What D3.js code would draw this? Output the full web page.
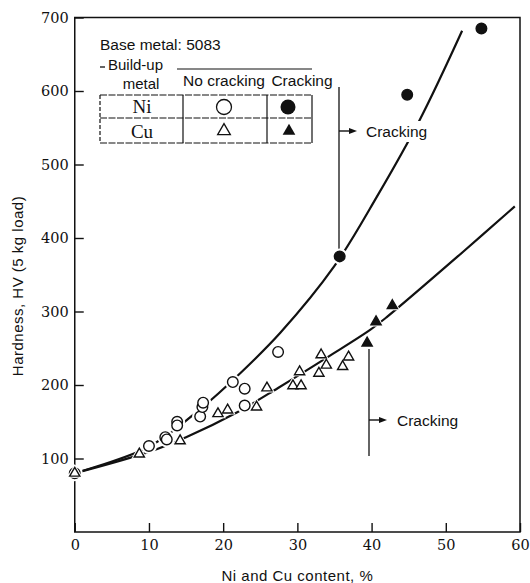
<!DOCTYPE html>
<html><head><meta charset="utf-8">
<script src="https://cdn.jsdelivr.net/npm/d3@7"></script>
<style>
body{margin:0;background:#fff;}
svg{display:block;}
.sans{font-family:"Liberation Sans",Arial,sans-serif;}
</style></head>
<body>
<script>
// ---- data ----
const xTicks = [0,10,20,30,40,50,60];
const yTicks = [100,200,300,400,500,600,700];
const niNoCrackX = [0,10,12.2,12.4,13.8,13.8,16.9,17.2,17.3,21.3,22.9,22.9,27.4];
const niNoCrackY = [80,117,129,126,150,145,157,170,176,204,195,172,245];
const niCrackX = [35.7,44.8,54.8];
const niCrackY = [375,595,685];
const cuNoCrackX = [0,8.7,14.2,19.3,20.6,24.5,25.9,29.4,30.5,30.3,32.9,33.2,33.9,36.1,36.9];
const cuNoCrackY = [80,106,124,161,166,170,196,199,199,218,216,241,227,225,238];
const cuCrackX = [39.4,40.6,42.8];
const cuCrackY = [257,286,308];
const niCurveX = [0,10,17,22.3,27.7,35,40.7,46.5,52.2];
const niCurveY = [80,116,168,216,271,362,456,561,682];
const cuCurveX = [0,10,15,21.9,27.4,34.4,39.8,42,52.3,59.3];
const cuCurveY = [80,109,129,163,196,240,275,292,381,443];

const W=530,H=583;
const svg=d3.select("body").append("svg").attr("width",W).attr("height",H);
const x=d3.scaleLinear().domain([0,60]).range([74.75,520]);
const y=d3.scaleLinear().domain([0,700]).range([532,17.5]);

// frame
svg.append("rect").attr("x",x(0)).attr("y",y(700)).attr("width",x(60)-x(0)).attr("height",y(0)-y(700))
  .attr("fill","none").attr("stroke","#111").attr("stroke-width",1.5);

// axes
const serif='"DejaVu Serif","Liberation Serif",serif';
const gx=svg.append("g").attr("transform",`translate(0,${y(0)})`)
  .call(d3.axisBottom(x).tickValues(xTicks).tickSizeInner(-9).tickSizeOuter(0).tickPadding(8).tickFormat(d3.format("d")));
const gy=svg.append("g").attr("transform",`translate(${x(0)},0)`)
  .call(d3.axisLeft(y).tickValues(yTicks).tickSizeInner(-9).tickSizeOuter(0).tickPadding(6).tickFormat(d3.format("d")));
[gx,gy].forEach(g=>{
  g.select(".domain").remove();
  g.selectAll("line").attr("stroke","#111").attr("stroke-width",1.4);
  g.selectAll("text").attr("fill","#111").style("font-family",serif).style("font-size","14.5px");
});

// axis titles
svg.append("text").attr("class","sans").attr("x",(x(0)+x(60))/2).attr("y",581).attr("text-anchor","middle")
  .style("font-size","15px").style("letter-spacing","0.5px").attr("fill","#111").text("Ni and Cu content, %");
svg.append("text").attr("class","sans").attr("transform","translate(23,286) rotate(-90)").attr("text-anchor","middle")
  .style("font-size","15px").style("letter-spacing","0.5px").attr("fill","#111").text("Hardness, HV (5 kg load)");

// curves
const line=d3.line().x(d=>x(d[0])).y(d=>y(d[1])).curve(d3.curveCatmullRom.alpha(0.5));
const niCurve=niCurveX.map((v,i)=>[v,niCurveY[i]]);
const cuCurve=cuCurveX.map((v,i)=>[v,cuCurveY[i]]);
[niCurve,cuCurve].forEach(c=>svg.append("path").attr("d",line(c)).attr("fill","none").attr("stroke","#111").attr("stroke-width",2.2));

// annotations
function arrowRight(x1,yy,x2){
  svg.append("line").attr("x1",x1).attr("x2",x2-6).attr("y1",yy).attr("y2",yy).attr("stroke","#111").attr("stroke-width",1.4);
  svg.append("path").attr("d",`M${x2},${yy}L${x2-8},${yy-3}L${x2-8},${yy+3}Z`).attr("fill","#111");
}
svg.append("line").attr("x1",339).attr("x2",339).attr("y1",87).attr("y2",249).attr("stroke","#111").attr("stroke-width",1.3);
arrowRight(339,131,357);
svg.append("rect").attr("x",362).attr("y",121).attr("width",70).attr("height",21).attr("fill","#fff");
svg.append("text").attr("class","sans").attr("x",366).attr("y",137).style("font-size","15.5px").attr("fill","#111").text("Cracking");

svg.append("line").attr("x1",369).attr("x2",369).attr("y1",349).attr("y2",456).attr("stroke","#111").attr("stroke-width",1.3);
arrowRight(369,420,387);
svg.append("text").attr("class","sans").attr("x",397).attr("y",426).style("font-size","15.5px").attr("fill","#111").text("Cracking");

// markers
const tri=d3.symbol().type(d3.symbolTriangle);
function circles(xs,ys,filled){
  xs.forEach((v,i)=>{
    svg.append("circle").attr("cx",x(v)).attr("cy",y(ys[i])).attr("r",8).attr("fill","#fff");
  });
  xs.forEach((v,i)=>{
    svg.append("circle").attr("cx",x(v)).attr("cy",y(ys[i])).attr("r",5.3)
      .attr("fill",filled?"#111":"#fff").attr("stroke","#111").attr("stroke-width",1.4);
  });
}
function triangles(xs,ys,filled){
  xs.forEach((v,i)=>{
    svg.append("path").attr("d",tri.size(110)()).attr("transform",`translate(${x(v)},${y(ys[i])})`).attr("fill","#fff");
  });
  xs.forEach((v,i)=>{
    svg.append("path").attr("d",tri.size(45)()).attr("transform",`translate(${x(v)},${y(ys[i])})`)
      .attr("fill",filled?"#111":"#fff").attr("stroke","#111").attr("stroke-width",1.4);
  });
}
circles(niNoCrackX,niNoCrackY,false);
triangles(cuNoCrackX,cuNoCrackY,false);
circles(niCrackX,niCrackY,true);
triangles(cuCrackX,cuCrackY,true);

// legend table
const lg=svg.append("g");
lg.append("text").attr("class","sans").attr("x",100).attr("y",50).style("font-size","15.5px").attr("fill","#111").text("Base metal: 5083");
lg.append("line").attr("x1",100).attr("x2",105).attr("y1",67).attr("y2",67).attr("stroke","#111").attr("stroke-width",1.3);
lg.append("text").attr("class","sans").attr("x",108).attr("y",70).style("font-size","15px").attr("fill","#111").text("Build-up");
lg.append("text").attr("class","sans").attr("x",141).attr("y",89).attr("text-anchor","middle").style("font-size","15px").attr("fill","#111").text("metal");
lg.append("line").attr("x1",177).attr("x2",312).attr("y1",69).attr("y2",69).attr("stroke","#111").attr("stroke-width",1.2);
lg.append("text").attr("class","sans").attr("x",224).attr("y",86).attr("text-anchor","middle").style("font-size","15.5px").attr("fill","#111").text("No cracking");
lg.append("text").attr("class","sans").attr("x",302).attr("y",86).attr("text-anchor","middle").style("font-size","15.5px").attr("fill","#111").text("Cracking");
[95,118,143].forEach(yy=>lg.append("line").attr("x1",100).attr("x2",312).attr("y1",yy).attr("y2",yy).attr("stroke","#111").attr("stroke-width",1.2).attr("stroke-dasharray","7,1.5"));
[100,183,267,312].forEach(xx=>lg.append("line").attr("x1",xx).attr("x2",xx).attr("y1",95).attr("y2",143).attr("stroke","#111").attr("stroke-width",1.2).attr("stroke-dasharray",xx===100?"4,2":null));
lg.append("text").attr("x",142).attr("y",113).attr("text-anchor","middle").style("font-family",'"Liberation Serif",serif').style("font-size","19px").attr("fill","#111").text("Ni");
lg.append("text").attr("x",142).attr("y",138).attr("text-anchor","middle").style("font-family",'"Liberation Serif",serif').style("font-size","19px").attr("fill","#111").text("Cu");
lg.append("circle").attr("cx",224).attr("cy",107).attr("r",7.5).attr("fill","#fff").attr("stroke","#111").attr("stroke-width",1.3);
lg.append("circle").attr("cx",288).attr("cy",107).attr("r",7.5).attr("fill","#111");
lg.append("path").attr("d",tri.size(70)()).attr("transform","translate(224,131)").attr("fill","#fff").attr("stroke","#111").attr("stroke-width",1.3);
lg.append("path").attr("d",tri.size(70)()).attr("transform","translate(289,131)").attr("fill","#111");
</script>
</body></html>
